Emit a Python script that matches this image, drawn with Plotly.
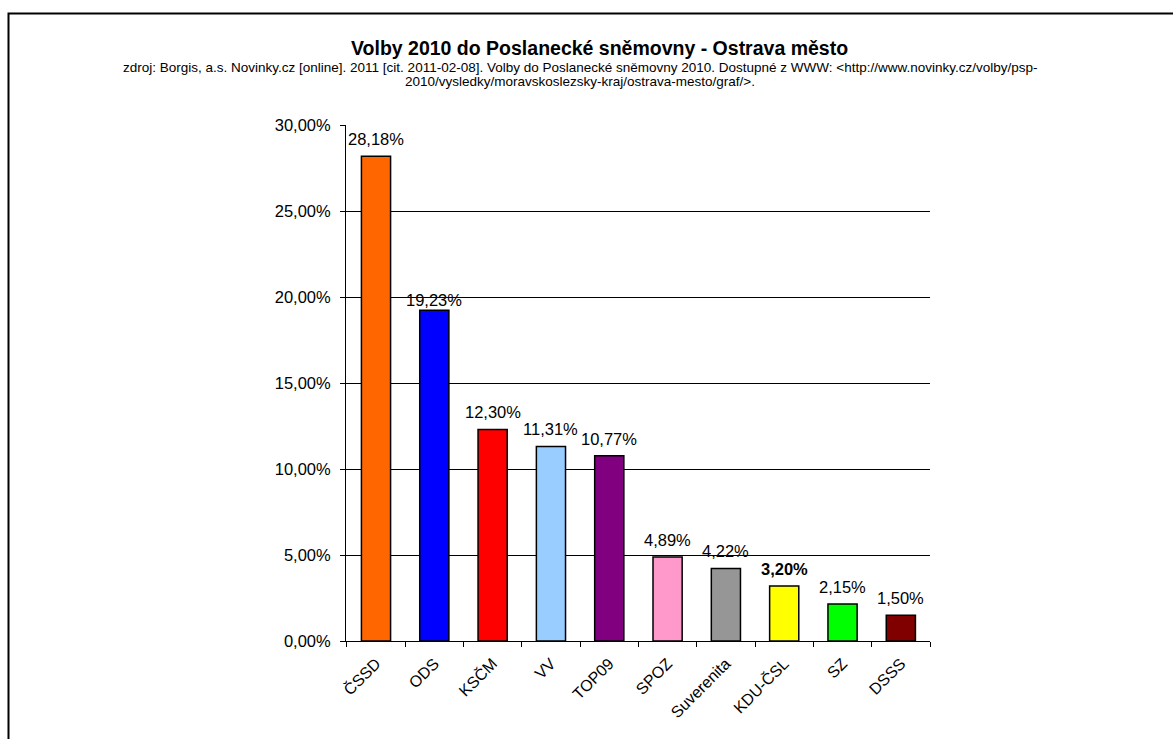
import plotly.graph_objects as go

parties = ["ČSSD", "ODS", "KSČM", "VV", "TOP09", "SPOZ", "Suverenita", "KDU-ČSL", "SZ", "DSSS"]
shares = [0.2818, 0.1923, 0.1230, 0.1131, 0.1077, 0.0489, 0.0422, 0.0320, 0.0215, 0.0150]
colors = ["#FF6600", "#0000FF", "#FF0000", "#99CCFF", "#800080", "#FF99CC", "#969696", "#FFFF00", "#00FF00", "#800000"]
bold_parties = ["KDU-ČSL"]
y_ticks = [0, 0.05, 0.10, 0.15, 0.20, 0.25, 0.30]

title_text = "Volby 2010 do Poslanecké sněmovny - Ostrava město"
source_line1 = "zdroj: Borgis, a.s. Novinky.cz [online]. 2011 [cit. 2011-02-08]. Volby do Poslanecké sněmovny 2010. Dostupné z WWW: <http://www.novinky.cz/volby/psp-"
source_line2 = "2010/vysledky/moravskoslezsky-kraj/ostrava-mesto/graf/>."

# label offset style (pixels above bar top)
label_gap = 6
label_gap_override = {"ODS": -1}

W, H = 1173, 739
L, R, T, B = 346, 930, 125, 641
pw, ph = R - L, B - T

def px(x):
    return (x - L) / pw

def py(y):
    return (B - y) / ph

fig = go.Figure(go.Bar(
    x=parties, y=shares, width=0.5,
    marker=dict(color=colors, line=dict(color="#000000", width=1.5)),
))

for p, v in zip(parties, shares):
    s = f"{v*100:.2f}%".replace(".", ",")
    if p in bold_parties:
        s = f"<b>{s}</b>"
    fig.add_annotation(x=p, y=v, xref="x", yref="y", text=s, showarrow=False,
                       yanchor="bottom", xanchor="center",
                       yshift=label_gap_override.get(p, label_gap),
                       font=dict(size=16.5, color="#000000"))

fig.update_layout(
    width=W, height=H,
    margin=dict(l=L, r=W - R, t=T, b=H - B),
    paper_bgcolor="white", plot_bgcolor="white",
    separators=", ",
    showlegend=False,
    font=dict(family="Arial, Liberation Sans", color="#000000"),
    bargap=0.5,
)
fig.update_yaxes(
    range=[0, 0.30], tickvals=y_ticks, tickformat=".2%",
    showgrid=True, gridcolor="#000000", gridwidth=1,
    showline=True, linecolor="#000000", linewidth=1,
    ticks="outside", ticklen=5, tickcolor="#000000", ticklabelstandoff=6,
    tickfont=dict(size=16.5), zeroline=False,
)
fig.update_xaxes(
    showline=True, linecolor="#000000", linewidth=1,
    ticks="outside", ticklen=5, tickcolor="#000000", tickson="boundaries",
    tickangle=-45, tickfont=dict(size=16), ticklabelstandoff=6,
)

fig.add_annotation(xref="paper", yref="paper", x=px(599), y=py(48), text=f"<b>{title_text}</b>",
                   showarrow=False, font=dict(size=19.5), xanchor="center", yanchor="middle")
fig.add_annotation(xref="paper", yref="paper", x=px(580), y=py(67), text=source_line1,
                   showarrow=False, font=dict(size=13.5), xanchor="center", yanchor="middle")
fig.add_annotation(xref="paper", yref="paper", x=px(580), y=py(81), text=source_line2,
                   showarrow=False, font=dict(size=13.5), xanchor="center", yanchor="middle")

fig.add_shape(type="rect", xref="paper", yref="paper",
              x0=px(8.5), x1=px(W + 20), y0=py(H + 20), y1=py(13.5),
              line=dict(color="#000000", width=2), fillcolor="rgba(0,0,0,0)", layer="below")

fig.write_html("out.html")
